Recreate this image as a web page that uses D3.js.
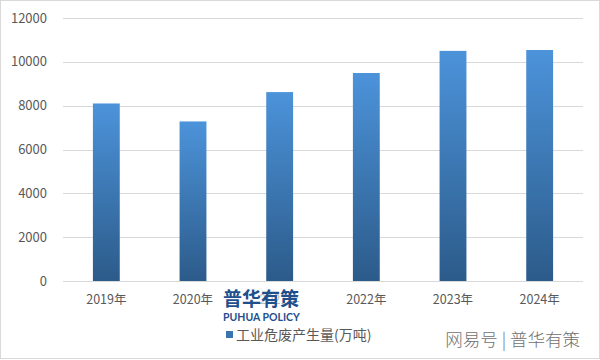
<!DOCTYPE html>
<html><head><meta charset="utf-8">
<script src="https://cdn.jsdelivr.net/npm/d3@7"></script>
<style>body{margin:0;background:#fff;}svg{display:block;font-family:"Microsoft YaHei","Noto Sans CJK SC","DejaVu Sans",sans-serif;}</style>
</head><body>
<svg id="c" width="600" height="360"></svg>
<script>
const categories = ["2019年","2020年","2021年","2022年","2023年","2024年"];
const values = [8100, 7280, 8620, 9490, 10500, 10540];
const yTicks = [0, 2000, 4000, 6000, 8000, 10000, 12000];
const seriesName = "工业危废产生量(万吨)";

const svg = d3.select("#c");
const W = 600, H = 360;
svg.append("rect").attr("x",0.5).attr("y",0.5).attr("width",W-1).attr("height",H-2).attr("fill","#fff").attr("stroke","#d9d9d9");

const x = d3.scaleBand().domain(categories).range([63, 583]).paddingInner(0.69).paddingOuter(0.345);
const y = d3.scaleLinear().domain([0, 12000]).range([281, 18]);

const defs = svg.append("defs");
const g = defs.append("linearGradient").attr("id","bg").attr("x1",0).attr("y1",0).attr("x2",0).attr("y2",1);
g.append("stop").attr("offset","0%").attr("stop-color","#4c93da");
g.append("stop").attr("offset","100%").attr("stop-color","#2c5b8a");

// gridlines
svg.append("g").selectAll("line").data(yTicks).join("line")
  .attr("x1",63).attr("x2",583).attr("y1",d=>Math.round(y(d))+0.5).attr("y2",d=>Math.round(y(d))+0.5)
  .attr("stroke","#d9d9d9").attr("stroke-width",1);

// y labels
svg.append("g").selectAll("text").data(yTicks).join("text")
  .attr("x",47).attr("y",d=>y(d)).attr("dy","0.35em").attr("text-anchor","end")
  .attr("font-size",13).attr("fill","#595959").text(d=>d);

// bars
svg.append("g").selectAll("rect").data(values).join("rect")
  .attr("x",(d,i)=>x(categories[i])).attr("width",x.bandwidth())
  .attr("y",d=>y(d)).attr("height",d=>y(0)-y(d))
  .attr("fill","url(#bg)");

// x labels
svg.append("g").selectAll("text").data(categories).join("text")
  .attr("x",d=>x(d)+x.bandwidth()/2).attr("y",304).attr("text-anchor","middle")
  .attr("font-size",12.5).attr("fill","#595959").text(d=>d);

// watermark logo (drawn over the 2021 label, as in the source)
svg.append("rect").attr("x",222).attr("y",287).attr("width",78).attr("height",22).attr("fill","#fff").attr("opacity",0.6);
svg.append("text").attr("x",223).attr("y",306).attr("font-size",19).attr("font-weight","bold")
  .attr("fill","#1f4f8c").text("普华有策");
svg.append("text").attr("x",223).attr("y",321).attr("font-size",10.5).attr("font-weight","bold")
  .attr("fill","#1f4f8c").attr("font-family","Lato, 'DejaVu Sans', sans-serif").text("PUHUA POLICY");

// legend
svg.append("rect").attr("x",226).attr("y",331).attr("width",7).attr("height",7).attr("fill","#3a75b0");
svg.append("text").attr("x",236).attr("y",340).attr("font-size",14).attr("fill","#595959").text(seriesName);

// bottom-right watermark
svg.append("text").attr("x",580).attr("y",346).attr("text-anchor","end").attr("font-size",17.5)
  .attr("font-weight",300).attr("fill","#707070").text("网易号 | 普华有策");
</script>
</body></html>
